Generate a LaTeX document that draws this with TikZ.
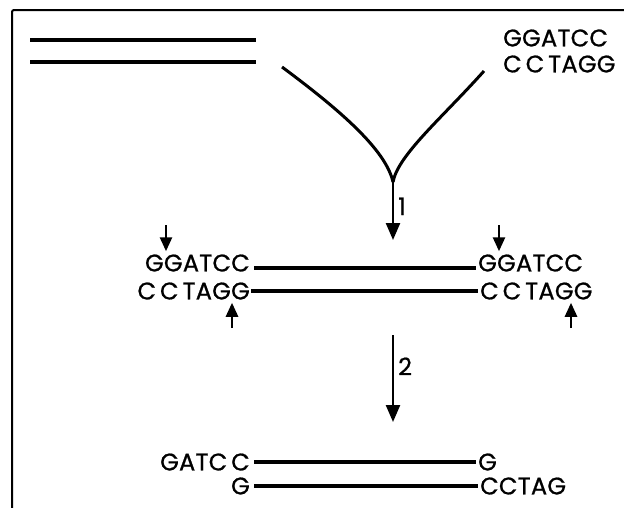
\documentclass[tikz,border=0pt]{standalone}
\usepackage{fontspec}
\setmainfont{Poppins}
\newfontfamily\seqfont{Poppins}[LetterSpace=1,FakeBold=0.8]
\usepackage{tikz}
\usetikzlibrary{positioning}
\usetikzlibrary{arrows.meta}

\begin{document}
\begin{tikzpicture}[x=1pt,y=-1pt,
    seq/.style={font=\seqfont\fontsize{24}{28}\selectfont,inner sep=0pt},
    strand/.style={line width=3.6pt},
    arm/.style={line width=3pt},
    cut/.style={line width=2.6pt,-{Triangle[width=12pt,length=14pt]}},
    stage/.style={line width=2.4pt,-{Triangle[width=14pt,length=17pt]}}]
\useasboundingbox (0,0) rectangle (624,507);
% frame
\draw[line width=2pt,rounded corners=2pt] (12,510) -- (12,10) -- (626,10);

% vector and insert
\coordinate (va1) at (30,40);
\coordinate (vb1) at (256,40);
\coordinate (va2) at (30,62);
\coordinate (vb2) at (256,62);
\draw[strand] (va1) -- (vb1);
\draw[strand] (va2) -- (vb2);
\node[seq,anchor=west] (ti1) at (503,38) {GGATCC};
\node[seq,anchor=west] (ti2) at (503,64) {C\,C\,TAGG};

% joining
\coordinate (lo) at (282,67);
\coordinate (ro) at (484,71);
\coordinate (fork) at (393,182);
\draw[arm] (lo) .. controls (340,110) and (386,150) .. (fork);
\draw[arm] (ro) .. controls (442,118) and (398,155) .. (fork);
\coordinate (s1) at (393,240);
\draw[stage] (fork) -- (s1) node[pos=0.42,right=4pt,seq] (n1) {1};

% recombinant
\node[seq,anchor=east] (l1) at (250,263) {GGATCC};
\node[seq,anchor=east] (l2) at (250,291) {C\,C\,TAGG};
\node[seq,anchor=west] (r1) at (478,263) {GGATCC};
\node[seq,anchor=west] (r2) at (480,291) {C\,C\,TAGG};
\draw[strand] ([xshift=4pt,yshift=-5pt]l1.east) -- ([xshift=-2pt,yshift=-5pt]r1.west);
\draw[strand] ([xshift=1pt]l2.east) -- ([xshift=-2pt]r2.west);

\coordinate (k1) at (166,225);
\coordinate (k2) at (499,225);
\coordinate (k3) at (232,328);
\coordinate (k4) at (571,328);
\draw[cut] (k1) -- ([yshift=3pt]k1 |- l1.north);
\draw[cut] (k2) -- ([yshift=3pt]k2 |- r1.north);
\draw[cut] (k3) -- ([yshift=-3pt]k3 |- l2.south);
\draw[cut] (k4) -- ([yshift=-3pt]k4 |- r2.south);

\coordinate (t2) at (393,335);
\coordinate (s2) at (393,422);
\draw[stage] (t2) -- (s2) node[pos=0.36,right=4pt,seq] (n2) {2};

% cut ends
\node[seq,anchor=east] (b1) at (250,462) {GATC\,C};
\node[seq,anchor=east] (b2) at (250,486) {G};
\node[seq,anchor=west] (e1) at (478,462) {G};
\node[seq,anchor=west] (e2) at (480,486) {CCTAG};
\draw[strand] ([xshift=4pt]b1.east) -- ([xshift=-2pt]e1.west);
\draw[strand] ([xshift=4pt]b2.east) -- ([xshift=-2pt]e2.west);
\end{tikzpicture}
\end{document}
